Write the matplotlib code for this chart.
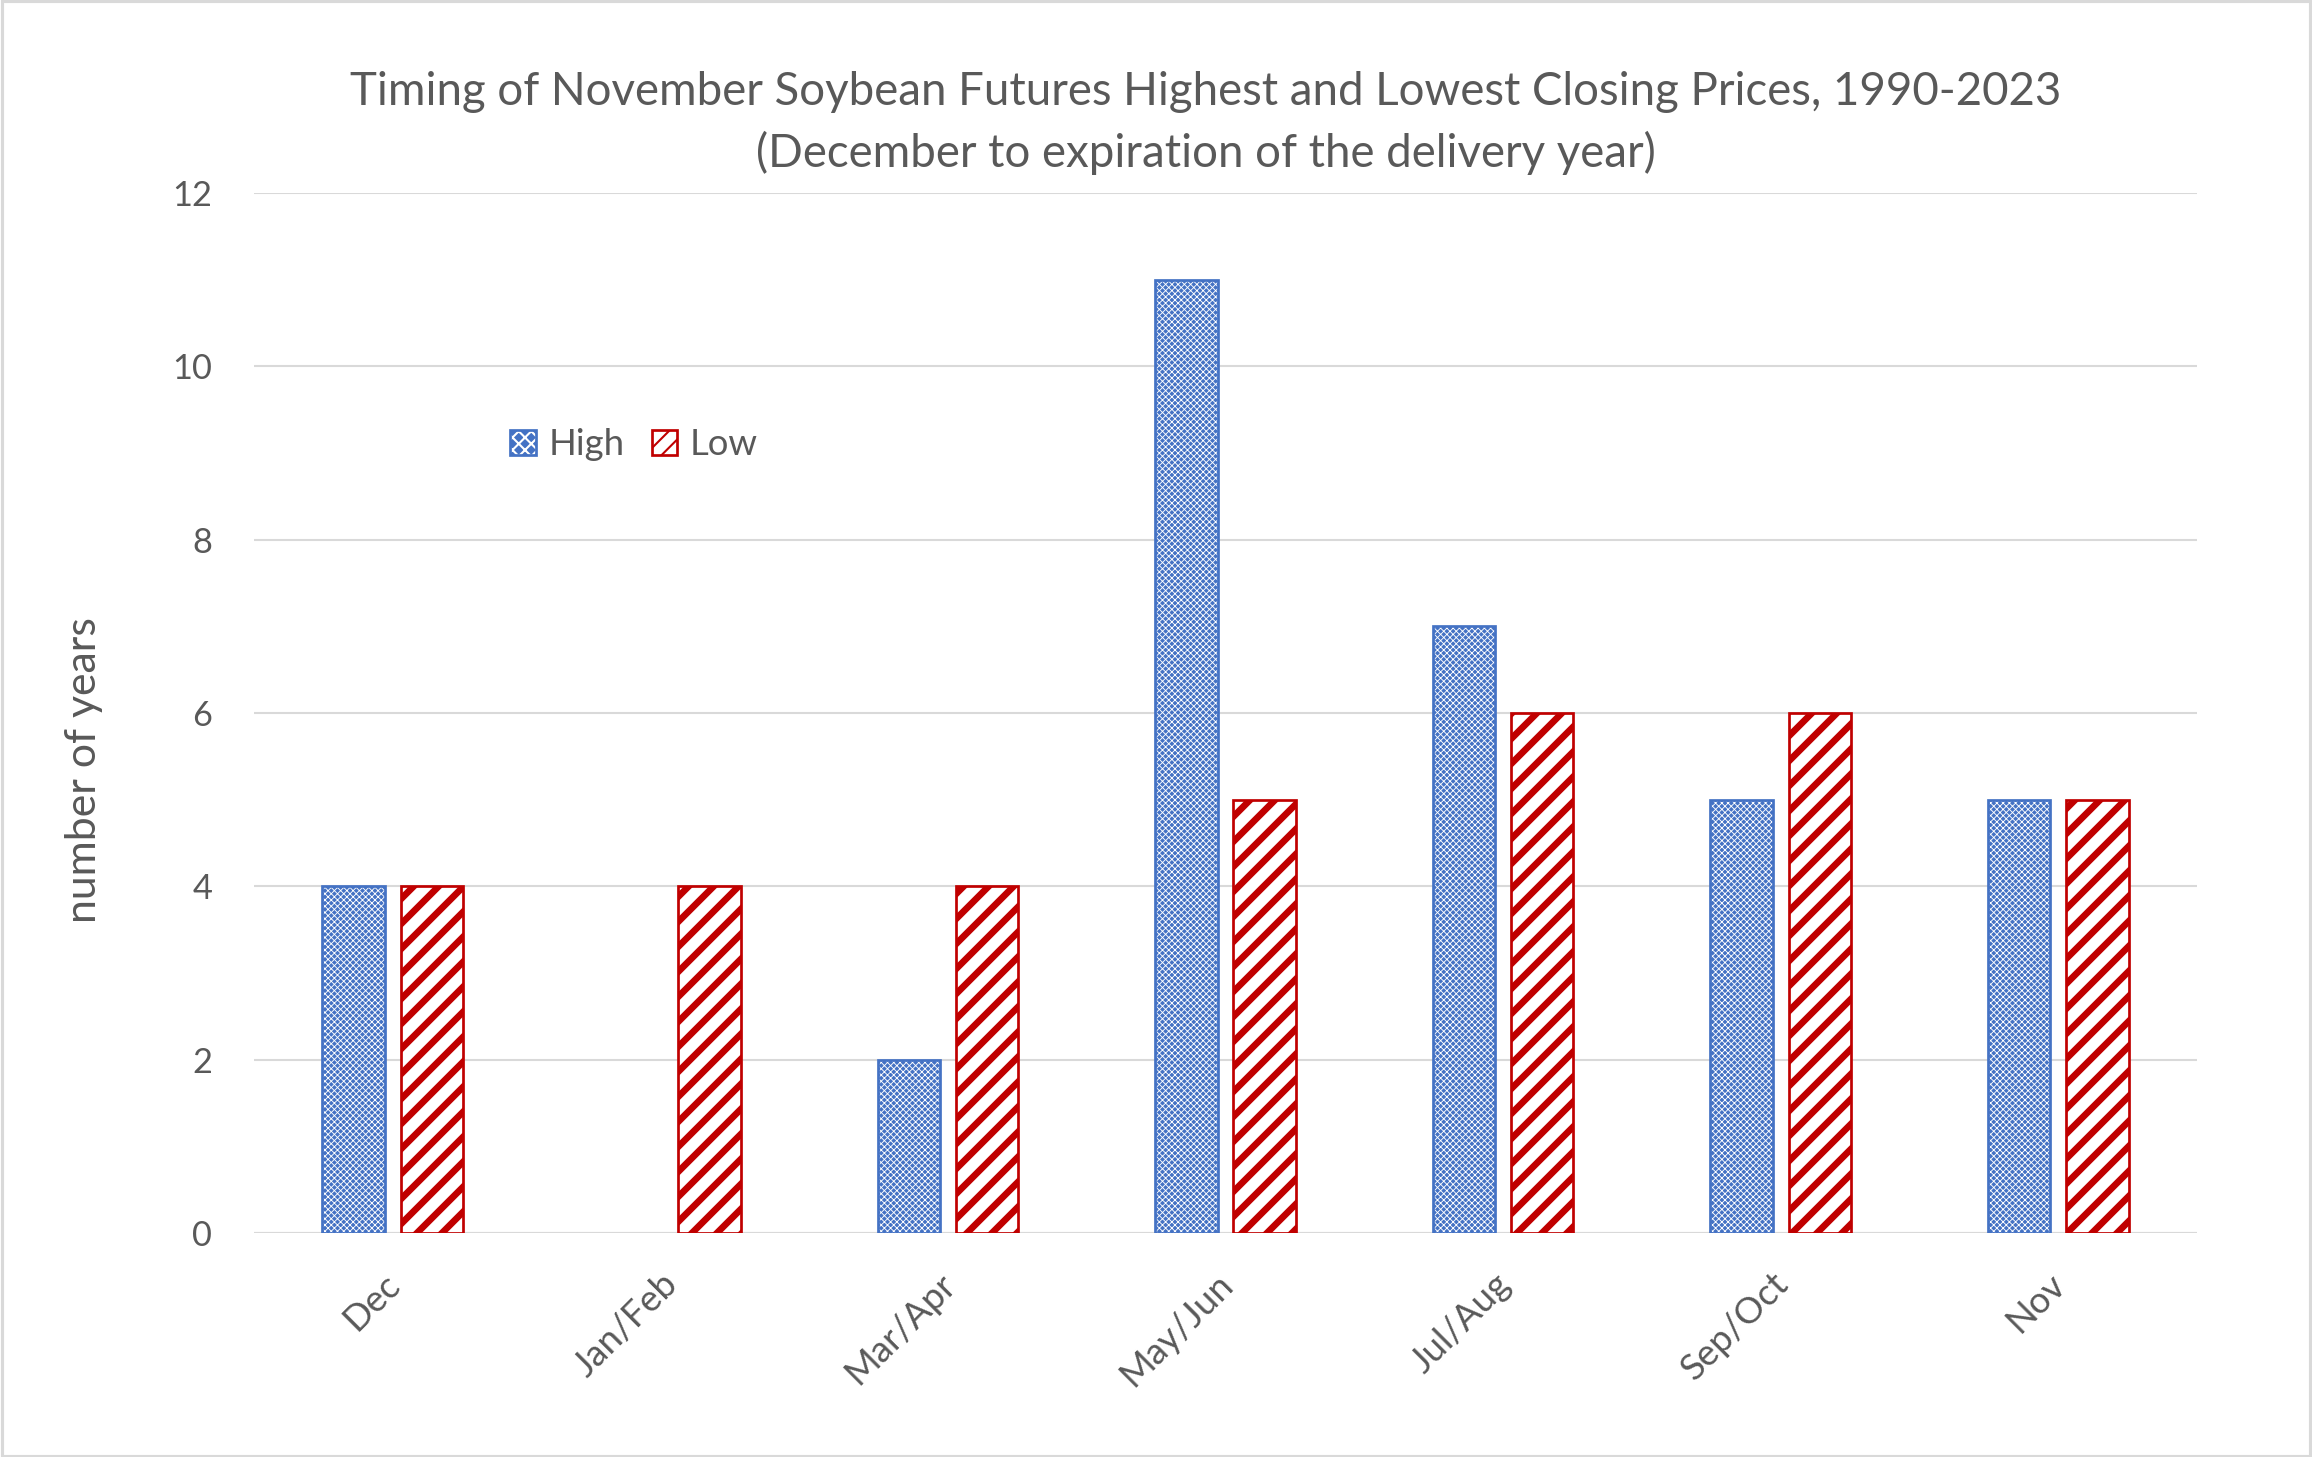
import matplotlib
matplotlib.use("Agg")
import matplotlib.pyplot as plt
import matplotlib.transforms as mtransforms
from matplotlib.patches import Rectangle, Patch
from matplotlib.legend_handler import HandlerTuple
import numpy as np

categories = ["Dec", "Jan/Feb", "Mar/Apr", "May/Jun", "Jul/Aug", "Sep/Oct", "Nov"]
high = [4, 0, 2, 11, 7, 5, 5]
low = [4, 4, 4, 5, 6, 6, 5]
yticks = [0, 2, 4, 6, 8, 10, 12]
title1 = "Timing of November Soybean Futures Highest and Lowest Closing Prices, 1990-2023"
title2 = "(December to expiration of the delivery year)"
ylabel = "number of years"

BLUE = "#4472C4"
RED = "#C00000"
GREY = "#595959"
GRID = "#D9D9D9"
FONT = "Lato"

DPI = 150
W, H = 2312, 1457
fig = plt.figure(figsize=(W / DPI, H / DPI), dpi=DPI)
plt.rcParams['font.family'] = [FONT, 'DejaVu Sans']

ax = fig.add_axes([254 / W, 1 - 1233 / H, (2197 - 254) / W, (1233 - 193) / H])

x = np.arange(len(categories))
bw = 0.225
off = 0.141
CHECK = "xxxxxxxx"
CHECK_LW = 0.42
STRIPE = "//"
STRIPE_LW = 3.2


def set_hlw(patches, lw):
    for p in patches:
        if hasattr(p, "set_hatch_linewidth"):
            p.set_hatch_linewidth(lw)


with plt.rc_context({'hatch.linewidth': CHECK_LW}):
    hb = ax.bar(x - off, high, bw, facecolor=BLUE, edgecolor="white", hatch=CHECK,
                linewidth=0, zorder=3)
    set_hlw(hb, CHECK_LW)
hb2 = ax.bar(x - off, high, bw, fill=False, edgecolor=BLUE, linewidth=1.3, zorder=4)
for p, v in zip(hb2, high):
    if v == 0:
        p.set_visible(False)

with plt.rc_context({'hatch.linewidth': STRIPE_LW}):
    lb = ax.bar(x + off, low, bw, facecolor="white", edgecolor=RED, hatch=STRIPE,
                linewidth=1.3, zorder=3)
    set_hlw(lb, STRIPE_LW)

ax.set_xlim(-0.5, len(categories) - 0.5)
ax.set_ylim(0, 12)
ax.set_yticks(yticks)
ax.set_yticklabels([str(t) for t in yticks])
ax.grid(axis="y", color=GRID, linewidth=1.0, zorder=0)
ax.set_axisbelow(True)
for s in ["top", "right", "left", "bottom"]:
    ax.spines[s].set_visible(False)
ax.axhline(0, color=GRID, linewidth=1.0, zorder=2)
ax.tick_params(axis="y", length=0, pad=20, labelsize=16.5, labelcolor=GREY)
ax.tick_params(axis="x", length=0, pad=22, labelsize=17.5, labelcolor=GREY)
ax.set_xticks(x)
ax.set_xticklabels(categories)
shift = mtransforms.ScaledTranslation(2 / DPI, 0, fig.dpi_scale_trans)
for lab in ax.get_xticklabels():
    lab.set_rotation(45)
    lab.set_ha("right")
    lab.set_va("center")
    lab.set_rotation_mode("anchor")
    lab.set_transform(lab.get_transform() + shift)

fig.text(1206 / W, 1 - 92 / H, title1, ha="center", va="center", fontsize=21.9, color=GREY)
fig.text(1206 / W, 1 - 153 / H, title2, ha="center", va="center", fontsize=21.9, color=GREY)
fig.text(84 / W, 1 - 770 / H, ylabel, ha="center", va="center", rotation=90,
         fontsize=20.5, color=GREY)

h_hatch = Patch(facecolor=BLUE, edgecolor="white", hatch="xxxx", linewidth=0)
h_edge = Patch(fill=False, edgecolor=BLUE, linewidth=1.3)
l_patch = Patch(facecolor="white", edgecolor=RED, hatch="///", linewidth=1.3)
leg = fig.legend([(h_hatch, h_edge), l_patch], ["High", "Low"], loc="center",
                 bbox_to_anchor=(634 / W, 1 - 445 / H), ncol=2, frameon=False,
                 handler_map={tuple: HandlerTuple(ndivide=1)},
                 handlelength=0.7, handleheight=0.7, handletextpad=0.35,
                 columnspacing=0.75, fontsize=17.5)
for t in leg.get_texts():
    t.set_color(GREY)

fig.patches.append(Rectangle((0.001, 0.001), 0.998, 0.998, transform=fig.transFigure,
                             fill=False, edgecolor=GRID, linewidth=1.5, zorder=10))

fig.savefig("out.png", dpi=DPI)
